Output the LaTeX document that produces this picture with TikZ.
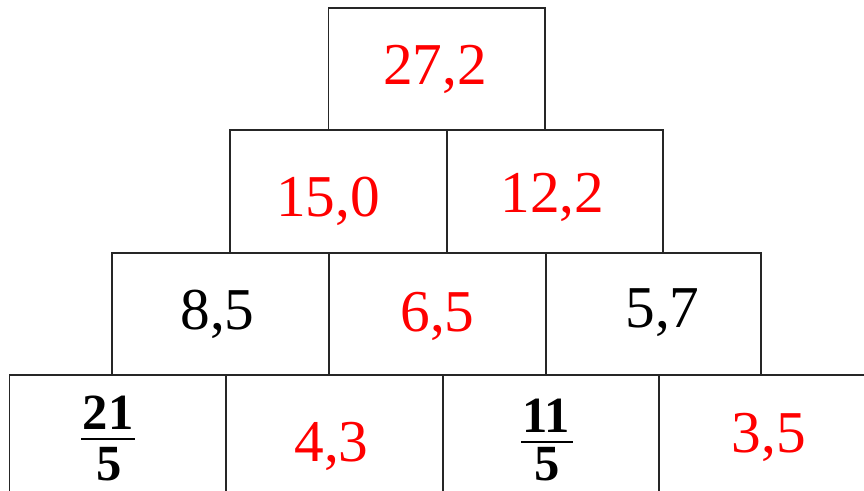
\documentclass[tikz,border=0pt]{standalone}
\usepackage{fontspec}
\setmainfont{Liberation Serif}
\begin{document}
\begin{tikzpicture}[x=0.75pt,y=-0.75pt,
  cell/.style={draw=black!85,line width=1.3pt},
  num/.style={anchor=base,inner sep=0pt,font=\fontsize{44.5}{50}\selectfont},
  red/.style={text={rgb,255:red,255;green,0;blue,0}},
  frac/.style={anchor=base,inner sep=0pt,font=\fontsize{38}{42}\selectfont\bfseries},
  fbar/.style={draw=black,line width=1.5pt}]
\useasboundingbox (0,0) rectangle (864,491);
\clip (0,0) rectangle (864,491);
% row 1
\draw[cell] (328.5,8) rectangle (545,130);
% row 2
\draw[cell] (230,130) rectangle (447,253);
\draw[cell] (447,130) rectangle (663,253);
% row 3
\draw[cell] (112,253) rectangle (329,375);
\draw[cell] (329,253) rectangle (546,375);
\draw[cell] (546,253) rectangle (761,375);
% row 4
\draw[cell] (9.5,375) rectangle (226,500);
\draw[cell] (226,375) rectangle (443,500);
\draw[cell] (443,375) rectangle (659,500);
\draw[cell] (659,375) rectangle (876,500);
% texts
\node[num,red] (a) at (435,85) {27,2};
\node[num,red] (b1) at (328,217) {15,0};
\node[num,red] (b2) at (552.5,213) {12,2};
\node[num] (c1) at (217.5,330) {8,5};
\node[num,red] (c2) at (437.5,332) {6,5};
\node[num] (c3) at (662.5,328) {5,7};
\node[num,red] (d2) at (331.5,461) {4,3};
\node[num,red] (d4) at (769,453) {3,5};
% fractions
\node[frac] (d1n) at (108,430) {21};
\node[frac] (d1d) at (109,480) {5};
\coordinate (d1l) at (81,439);
\coordinate (d1r) at (135,439);
\draw[fbar] (d1l) -- (d1r);
\node[frac] (d3n) at (546,432) {11};
\node[frac] (d3d) at (547.5,480) {5};
\coordinate (d3l) at (521,442);
\coordinate (d3r) at (573,442);
\draw[fbar] (d3l) -- (d3r);
\end{tikzpicture}
\end{document}
